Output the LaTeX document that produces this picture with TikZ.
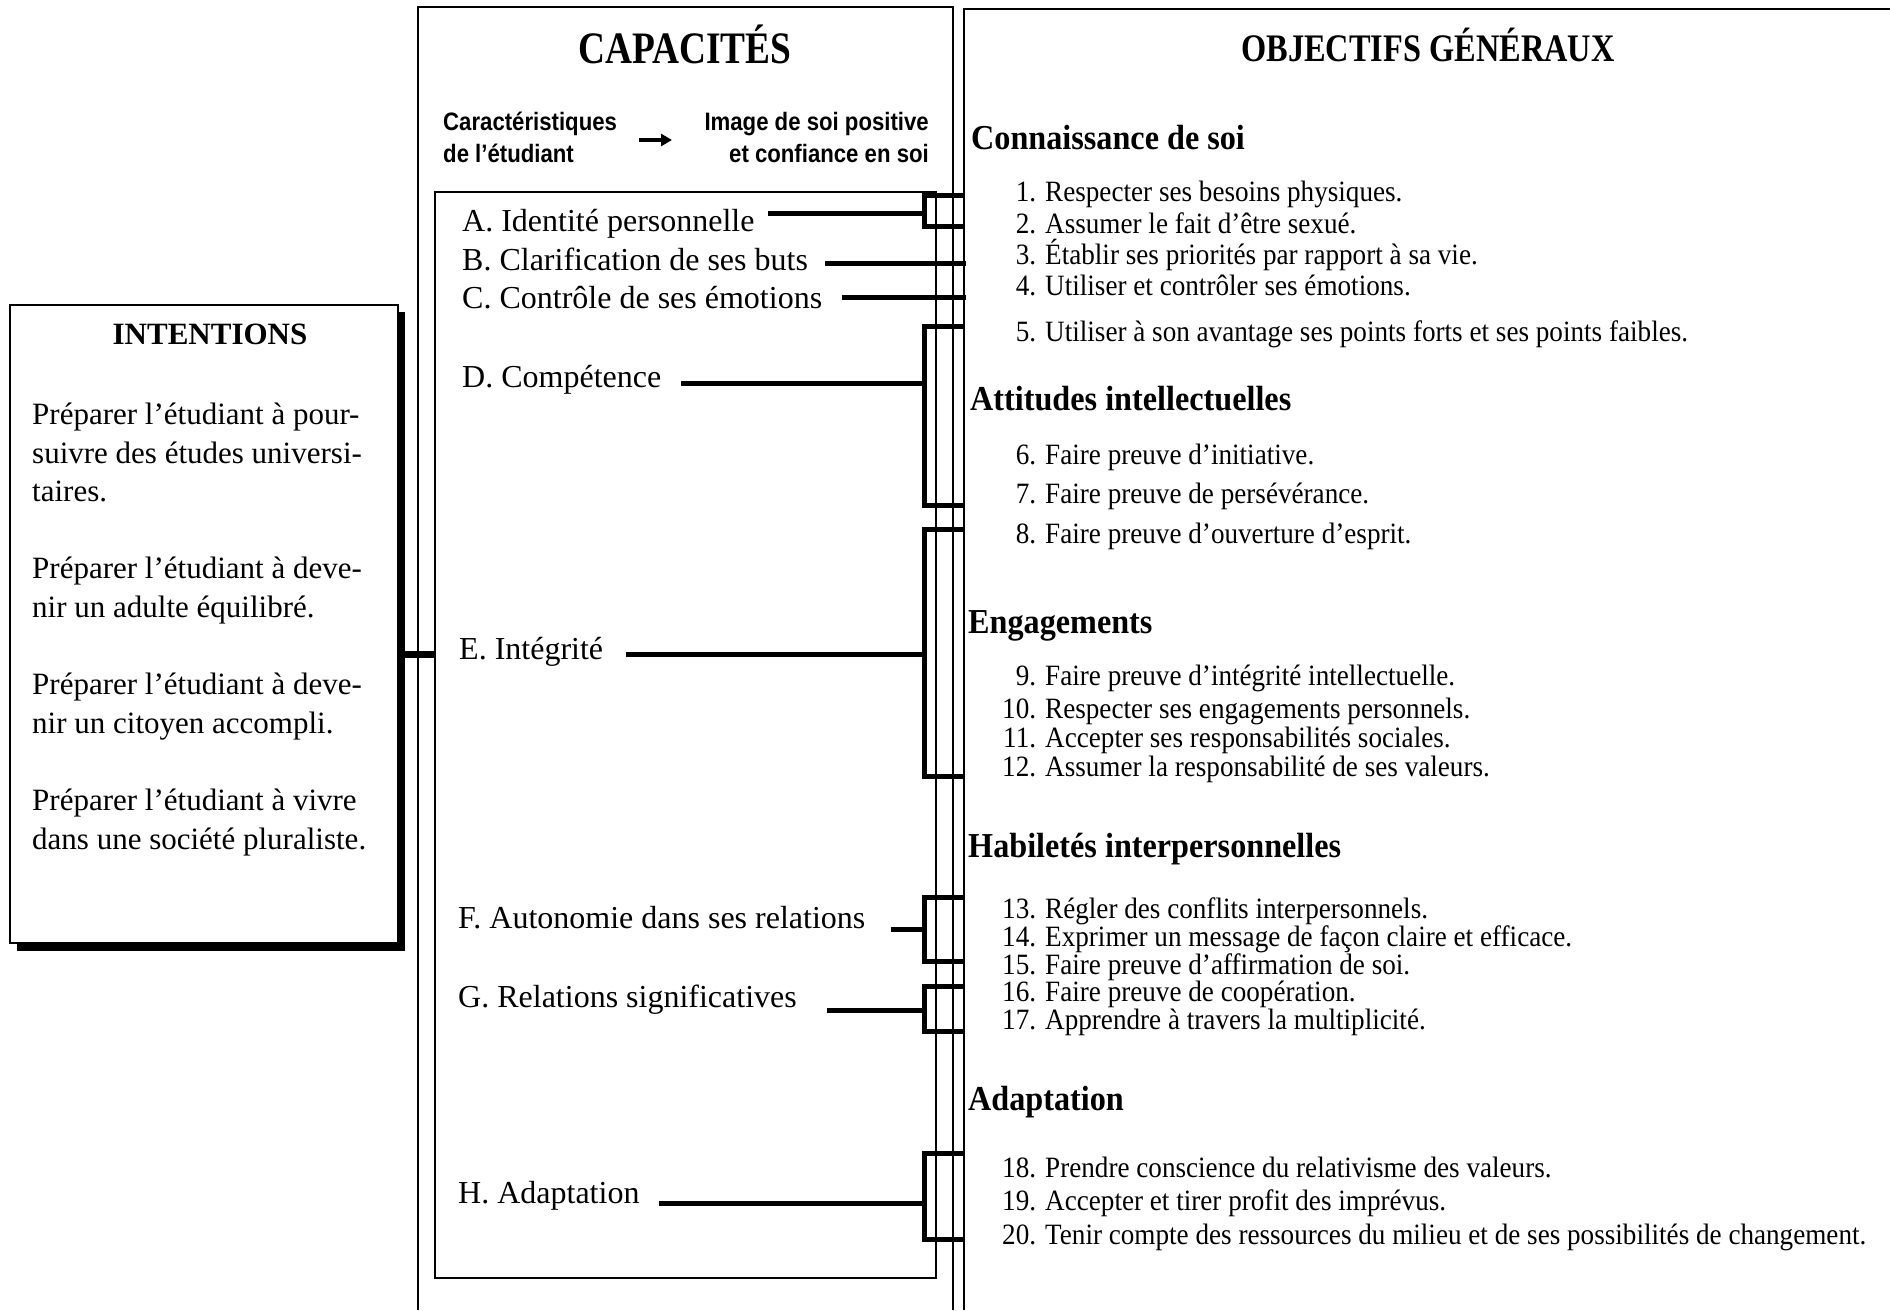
\documentclass[tikz,border=0pt]{standalone}
\usepackage{fontspec}
\setmainfont{Liberation Serif}
\newfontfamily\titlefont[FakeStretch=0.83]{Liberation Serif}
\newfontfamily\objfont[FakeStretch=0.92]{Liberation Serif}
\newfontfamily\hdrsans[FakeStretch=0.88]{Liberation Sans}
\usetikzlibrary{arrows.meta}

% bracket joining a capacity to its group of objectives
% #1 name, #2 start x of the lead line, #3 lead line y, #4 top, #5 bottom
\newcommand\capbracket[5]{%
  \coordinate (#1s) at (#2,#3);
  \coordinate (#1j) at (924,#3);
  \coordinate (#1t) at (964,#4);
  \coordinate (#1b) at (964,#5);
  \draw[link] (#1s) -- (#1j);
  \draw[bracket] (#1t) -| (924,#5) -- (#1b);
}

\begin{document}
\begin{tikzpicture}[x=1pt,y=-1pt,
  boxline/.style={line width=1.8pt},
  thinline/.style={line width=1.5pt},
  link/.style={line width=5pt},
  bracket/.style={line width=5pt, line join=miter},
  capitem/.style={anchor=base west, inner sep=0, font=\fontsize{32}{38}\selectfont},
  objitem/.style={anchor=base west, inner sep=0, font=\objfont\fontsize{29.5}{31}\selectfont},
  objhead/.style={anchor=base west, inner sep=0, font=\objfont\bfseries\fontsize{35}{38}\selectfont},
  intentline/.style={anchor=base west, inner sep=0, font=\fontsize{31}{38}\selectfont},
  hdr/.style={inner sep=0, font=\hdrsans\bfseries\fontsize{25.2}{30}\selectfont},
  bigtitle/.style={anchor=base, inner sep=0, font=\titlefont\bfseries},
]
\useasboundingbox (0,0) rectangle (1890,1310);
\fill[white] (0,0) rectangle (1890,1310);

% ---- Intentions panel with its drop shadow
\fill (17,312) rectangle (405,951);
\draw[boxline, fill=white] (10,305) rectangle (398,943);
\coordinate (intentR) at (398,654);
\node[inner sep=0, font=\bfseries\fontsize{31}{36}\selectfont] (intenttitle) at (210,334) {INTENTIONS};
\node[intentline] (i1) at (32,424) {Préparer l’étudiant à pour-};
\node[intentline] (i2) at (32,463) {suivre des études universi-};
\node[intentline] (i3) at (32,501) {taires.};
\node[intentline] (i4) at (32,578) {Préparer l’étudiant à deve-};
\node[intentline] (i5) at (32,617) {nir un adulte équilibré.};
\node[intentline] (i6) at (32,694) {Préparer l’étudiant à deve-};
\node[intentline] (i7) at (32,733) {nir un citoyen accompli.};
\node[intentline] (i8) at (32,810) {Préparer l’étudiant à vivre};
\node[intentline] (i9) at (32,849) {dans une société pluraliste.};

% ---- Capacités column
\draw[boxline] (418,1310) -- (418,7) -- (953,7) -- (953,1310);
\draw[thinline] (435,192) rectangle (936,1278);
\coordinate (innerL) at (435,654);
\draw[line width=7pt] (intentR) -- (innerL);

\node[bigtitle, font=\titlefont\bfseries\fontsize{45}{45}\selectfont] (captitle) at (685,63) {CAPACITÉS};
\node[hdr, anchor=base west] (car1) at (443,130) {Caractéristiques};
\node[hdr, anchor=base west] (car2) at (443,162) {de l’étudiant};
\node[hdr, anchor=base east] (img1) at (929,130) {Image de soi positive};
\node[hdr, anchor=base east] (img2) at (929,162) {et confiance en soi};
\coordinate (arrS) at (639,140);
\coordinate (arrE) at (672,140);
\draw[line width=3.5pt, -{Triangle[length=11pt,width=12pt]}] (arrS) -- (arrE);

\node[capitem] (capA) at (462,231) {A. Identité personnelle};
\node[capitem] (capB) at (462,270) {B. Clarification de ses buts};
\node[capitem] (capC) at (462,308) {C. Contrôle de ses émotions};
\node[capitem] (capD) at (462,387) {D. Compétence};
\node[capitem] (capE) at (459,659) {E. Intégrité};
\node[capitem] (capF) at (458,928) {F. Autonomie dans ses relations};
\node[capitem] (capG) at (458,1007) {G. Relations significatives};
\node[capitem] (capH) at (458,1203) {H. Adaptation};

% ---- Objectifs généraux column
\draw[boxline] (964,1310) -- (964,9) -- (1890,9);
\node[bigtitle, font=\titlefont\bfseries\fontsize{39}{39}\selectfont] (objtitle) at (1428,61) {OBJECTIFS GÉNÉRAUX};

\node[objhead] (h1) at (971,149) {Connaissance de soi};
\node[objhead] (h2) at (970,410) {Attitudes intellectuelles};
\node[objhead] (h3) at (968,633) {Engagements};
\node[objhead] (h4) at (968,857) {Habiletés interpersonnelles};
\node[objhead] (h5) at (968,1110) {Adaptation};

\node[objitem] (o1)  at (1045,201)  {\llap{1. }Respecter ses besoins physiques.};
\node[objitem] (o2)  at (1045,233)  {\llap{2. }Assumer le fait d’être sexué.};
\node[objitem] (o3)  at (1045,264)  {\llap{3. }Établir ses priorités par rapport à sa vie.};
\node[objitem] (o4)  at (1045,295)  {\llap{4. }Utiliser et contrôler ses émotions.};
\node[objitem] (o5)  at (1045,341)  {\llap{5. }Utiliser à son avantage ses points forts et ses points faibles.};
\node[objitem] (o6)  at (1045,464)  {\llap{6. }Faire preuve d’initiative.};
\node[objitem] (o7)  at (1045,503)  {\llap{7. }Faire preuve de persévérance.};
\node[objitem] (o8)  at (1045,543)  {\llap{8. }Faire preuve d’ouverture d’esprit.};
\node[objitem] (o9)  at (1045,685)  {\llap{9. }Faire preuve d’intégrité intellectuelle.};
\node[objitem] (o10) at (1045,718)  {\llap{10. }Respecter ses engagements personnels.};
\node[objitem] (o11) at (1045,747)  {\llap{11. }Accepter ses responsabilités sociales.};
\node[objitem] (o12) at (1045,776)  {\llap{12. }Assumer la responsabilité de ses valeurs.};
\node[objitem] (o13) at (1045,918)  {\llap{13. }Régler des conflits interpersonnels.};
\node[objitem] (o14) at (1045,946)  {\llap{14. }Exprimer un message de façon claire et efficace.};
\node[objitem] (o15) at (1045,974)  {\llap{15. }Faire preuve d’affirmation de soi.};
\node[objitem] (o16) at (1045,1001) {\llap{16. }Faire preuve de coopération.};
\node[objitem] (o17) at (1045,1029) {\llap{17. }Apprendre à travers la multiplicité.};
\node[objitem] (o18) at (1045,1177) {\llap{18. }Prendre conscience du relativisme des valeurs.};
\node[objitem] (o19) at (1045,1210) {\llap{19. }Accepter et tirer profit des imprévus.};
\node[objitem] (o20) at (1045,1244) {\llap{20. }Tenir compte des ressources du milieu et de ses possibilités de changement.};

% ---- links from each capacity to the objectives column
\capbracket{bA}{768}{213}{195}{226}
\coordinate (bBs) at (825,263);
\coordinate (bBe) at (966,263);
\draw[link] (bBs) -- (bBe);
\coordinate (bCs) at (842,297);
\coordinate (bCe) at (966,297);
\draw[link] (bCs) -- (bCe);
\capbracket{bD}{681}{383}{326}{505}
\capbracket{bE}{626}{654}{529}{776}
\capbracket{bF}{891}{929}{897}{961}
\capbracket{bG}{827}{1010}{986}{1031}
\capbracket{bH}{659}{1203}{1153}{1239}
\end{tikzpicture}
\end{document}
